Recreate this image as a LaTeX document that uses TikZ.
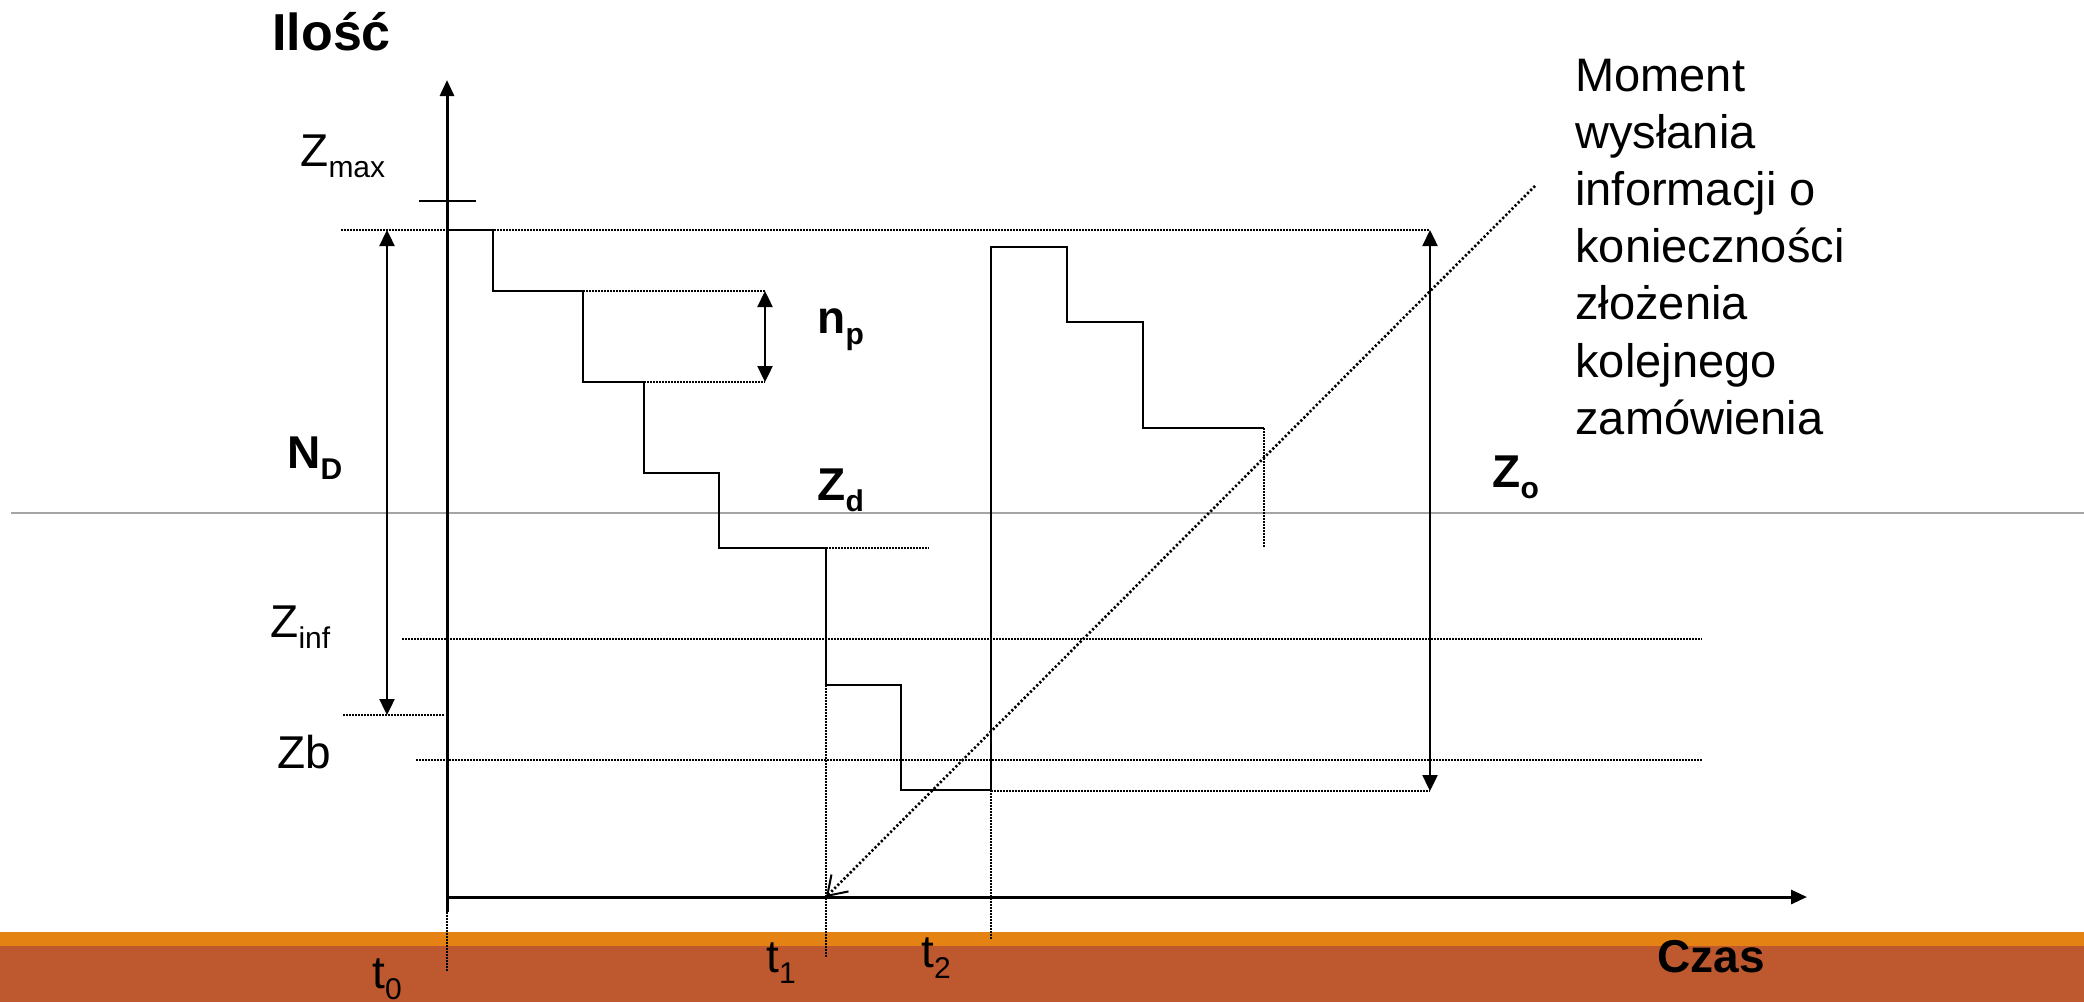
\documentclass[tikz,border=0pt]{standalone}
\usepackage{fontspec}
\setmainfont{Liberation Sans}
\usetikzlibrary{arrows.meta}
\definecolor{bandorange}{RGB}{228,130,20}
\definecolor{bandrust}{RGB}{190,88,46}
\definecolor{midgray}{RGB}{165,165,165}
\newcommand{\mysub}[1]{\raisebox{-5.5pt}{\fontsize{15pt}{15pt}\selectfont #1}}
\begin{document}
\begin{tikzpicture}[x=0.5pt,y=-0.5pt,
  lbl/.style={inner sep=0pt, anchor=base west, font=\fontsize{23pt}{28.5pt}\selectfont},
  blbl/.style={inner sep=0pt, anchor=base west, font=\fontsize{23pt}{28.5pt}\selectfont\bfseries},
  axisline/.style={line width=1.5pt, -{Triangle[length=8pt,width=7pt]}},
  curve/.style={line width=1pt},
  guide/.style={line width=0.75pt, dash pattern=on 0.75pt off 0.75pt},
  dimarrow/.style={line width=1.2pt, {Triangle[length=8pt,width=7.5pt]}-{Triangle[length=8pt,width=7.5pt]}},
  signal/.style={line width=1.3pt, dash pattern=on 1.1pt off 1.1pt, -{Straight Barb[length=9pt,width=12pt,line width=1pt]}},
  ]
\useasboundingbox (0,0) rectangle (2084,1002);
% background bands
\fill[bandorange] (0,932) rectangle (2084,1002);
\fill[bandrust] (0,946) rectangle (2084,1002);
% gray rule
\draw[midgray, line width=1pt] (11,513) -- (2084,513);

% coordinates
\coordinate (O) at (447,897);
\coordinate (ytop) at (447,80);
\coordinate (ybot) at (447,912);
\coordinate (xend) at (1807,897);
\coordinate (t0end) at (447,972);
\coordinate (zmaxL) at (419,201);
\coordinate (zmaxR) at (476,201);
\coordinate (topL) at (341,230);
\coordinate (topR) at (1430,230);
\coordinate (ndT) at (387,230);
\coordinate (ndB) at (387,715);
\coordinate (ndL) at (343,715);
\coordinate (ndR) at (445,715);
\coordinate (npT) at (765,291);
\coordinate (npB) at (765,382);
\coordinate (npTL) at (583,291);
\coordinate (npBL) at (644,382);
\coordinate (zdL) at (826,548);
\coordinate (zdR) at (929,548);
\coordinate (zinfL) at (402,639);
\coordinate (zinfR) at (1702,639);
\coordinate (zbL) at (416,760);
\coordinate (zbR) at (1702,760);
\coordinate (zoB) at (1430,791);
\coordinate (lowL) at (991,791);
\coordinate (t1a) at (826,685);
\coordinate (t1b) at (826,957);
\coordinate (t2a) at (991,790);
\coordinate (t2b) at (991,940);
\coordinate (lastA) at (1264,428);
\coordinate (lastB) at (1264,548);
\coordinate (sigS) at (1535,186);
\coordinate (sigE) at (826,897);

% guide lines
\draw[guide] (topL) -- (topR);
\draw[guide] (ndL) -- (ndR);
\draw[guide] (npTL) -- (npT);
\draw[guide] (npBL) -- (npB);
\draw[guide] (zdL) -- (zdR);
\draw[guide] (zinfL) -- (zinfR);
\draw[guide] (zbL) -- (zbR);
\draw[guide] (lowL) -- (zoB);
\draw[guide] (ybot) -- (t0end);
\draw[guide] (t1a) -- (t1b);
\draw[guide] (t2a) -- (t2b);
\draw[guide] (lastA) -- (lastB);

% stock level curve
\draw[curve] (447,230) -| (493,291) -| (583,382) -| (644,473) -| (719,548)
  -| (826,685) -| (901,790) -| (991,247) -| (1067,322) -| (1143,428) -- (lastA);

% axes
\draw[axisline] (ybot) -- (ytop);
\draw[axisline] (O) -- (xend);
\draw[line width=1.2pt] (zmaxL) -- (zmaxR);

% dimension arrows
\draw[dimarrow] (ndT) -- (ndB);
\draw[dimarrow] (npT) -- (npB);
\draw[dimarrow] (topR) -- (zoB);

% signal arrow
\draw[signal] (sigS) -- (sigE);

% labels
\node[inner sep=0pt, anchor=base west, font=\fontsize{26pt}{30pt}\selectfont\bfseries] (ilosc) at (272,50) {Ilość};
\node[lbl] (zmax) at (300,166) {Z\mysub{max}};
\node[blbl] (nd) at (287,468) {N\mysub{\bfseries D}};
\node[blbl] (np) at (817,333) {n\mysub{\bfseries p}};
\node[blbl] (zd) at (817,500) {Z\mysub{\bfseries d}};
\node[blbl] (zo) at (1492,487) {Z\mysub{\bfseries o}};
\node[lbl] (zinf) at (270,637) {Z\mysub{inf}};
\node[lbl] (zb) at (277,768) {Zb};
\node[lbl] (t0) at (372,988) {t\mysub{0}};
\node[lbl] (t1) at (766,972) {t\mysub{1}};
\node[lbl] (t2) at (921,967) {t\mysub{2}};
\node[blbl] (czas) at (1657,972) {Czas};
\node[inner sep=0pt, anchor=base west] (moment) at (1575,91) {\parbox[t]{300pt}{\raggedright\fontsize{23.5pt}{28.6pt}\selectfont Moment\\wysłania\\informacji o\\konieczności\\złożenia\\kolejnego\\zamówienia}};
\end{tikzpicture}
\end{document}
